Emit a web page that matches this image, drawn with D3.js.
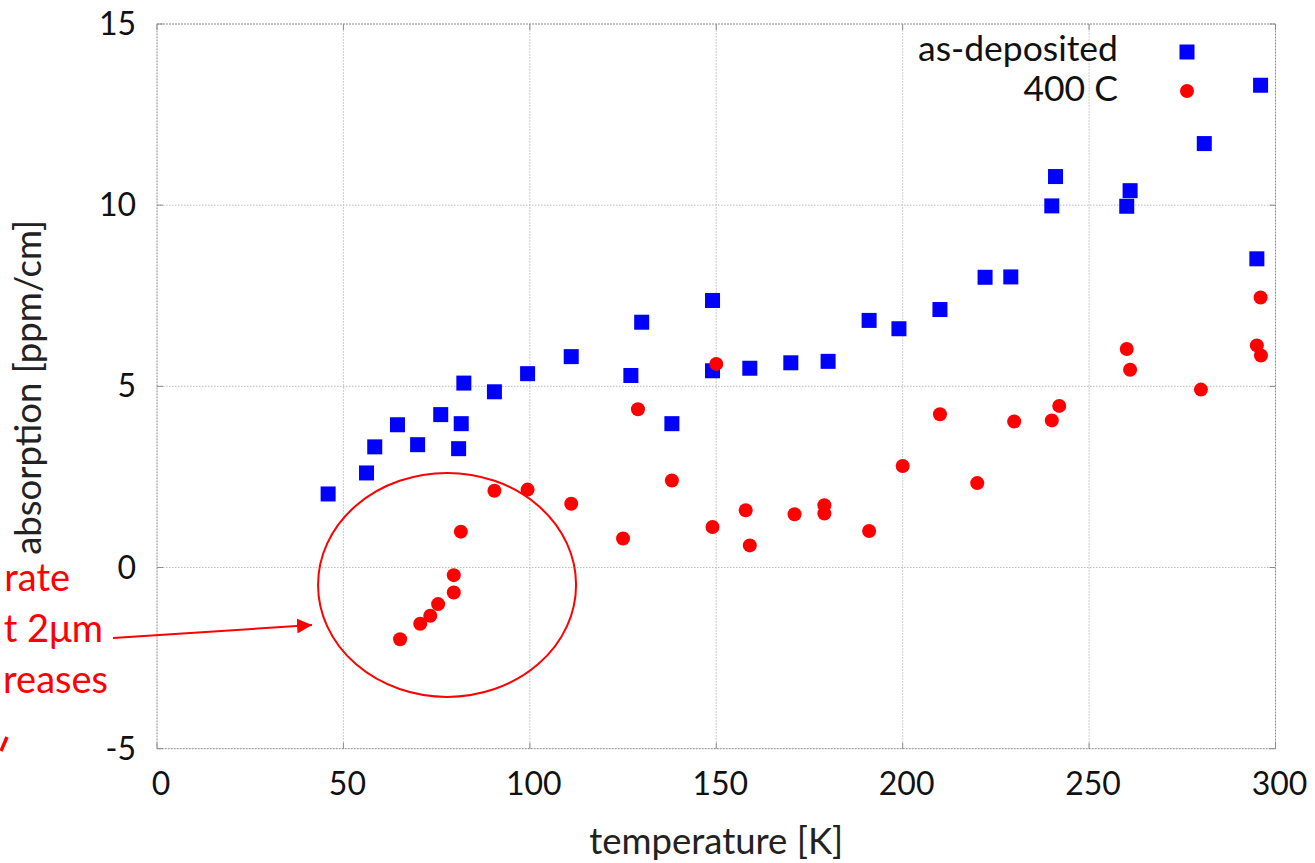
<!DOCTYPE html>
<html>
<head>
<meta charset="utf-8">
<script src="https://cdn.jsdelivr.net/npm/d3@7"></script>
<style>
  body { margin: 0; background: #fff; }
  svg { display: block; font-family: Lato, "Open Sans", sans-serif; }
  .grid line { stroke: #bdbdbd; stroke-width: 1; stroke-dasharray: 1.5,1.5; }
  .frame { fill: none; stroke: #8c8c8c; stroke-width: 1; stroke-dasharray: 2,1; }
  .tick-mark { stroke: #8c8c8c; stroke-width: 1; }
  .ticklabel { font-size: 32px; fill: #111; }
  .title { font-size: 36.5px; fill: #222; }
  .legendtext { font-size: 35.5px; fill: #111; }
  .note { font-size: 38px; fill: #ff0000; }
</style>
</head>
<body>
<div id="chart"></div>
<script>
// tick values
var xTicks = [0, 50, 100, 150, 200, 250, 300];
var yTicks = [-5, 0, 5, 10, 15];

// as-deposited: temperature [K], absorption [ppm/cm]
var depT = [45.9, 56.2, 58.4, 64.5, 69.9, 76.1, 80.9, 81.6, 82.3, 90.5, 99.4, 111.1, 127.1, 130.0, 138.1,
            149.0, 149.0, 159.0, 170.0, 180.0, 191.0, 199.0, 210.0, 222.1, 229.0, 240.0, 241.0, 260.1,
            261.0, 280.9, 295.0, 296.0];
var depA = [2.03, 2.61, 3.33, 3.94, 3.39, 4.22, 3.28, 3.97, 5.09, 4.85, 5.35, 5.82, 5.30, 6.77, 3.97,
            7.37, 5.43, 5.50, 5.65, 5.69, 6.82, 6.59, 7.12, 8.01, 8.02, 9.98, 10.79, 9.97,
            10.40, 11.70, 8.52, 13.31];

// annealed 400 C
var annT = [65.2, 70.6, 73.3, 75.4, 79.6, 79.6, 81.5, 90.5, 99.4, 111.1, 125.0, 129.0, 138.1, 149.0,
            150.0, 157.9, 159.0, 171.0, 179.0, 179.0, 191.0, 200.0, 210.0, 220.0, 229.9, 240.0,
            242.0, 260.1, 261.0, 280.0, 295.0, 296.1, 296.0];
var annA = [-1.98, -1.55, -1.33, -1.01, -0.69, -0.21, 0.99, 2.12, 2.15, 1.76, 0.80, 4.37, 2.40, 1.12,
            5.62, 1.58, 0.61, 1.47, 1.72, 1.49, 1.01, 2.80, 4.23, 2.33, 4.03, 4.06,
            4.46, 6.03, 5.46, 4.91, 6.13, 5.85, 7.45];

var seriesNames = ['as-deposited', '400 C'];

// annotation text, only the part that shows inside the picture
var noteLines = ['rate', 't 2\u03bcm', 'reases'];

var W = 1315, H = 863;
var margin = {left: 157, right: 39.5, top: 24, bottom: 114.3};

var x = d3.scaleLinear().domain([0, 300]).range([margin.left, W - margin.right]);
var y = d3.scaleLinear().domain([-5, 15]).range([H - margin.bottom, margin.top]);

var svg = d3.select('#chart').append('svg')
  .attr('width', W)
  .attr('height', H);

// grid
var grid = svg.append('g').attr('class', 'grid');
grid.selectAll('.gx')
  .data(xTicks.slice(1, -1))
  .enter().append('line')
  .attr('x1', function(d) { return x(d); })
  .attr('x2', function(d) { return x(d); })
  .attr('y1', y(-5))
  .attr('y2', y(15));
grid.selectAll('.gy')
  .data(yTicks.slice(1, -1))
  .enter().append('line')
  .attr('x1', x(0))
  .attr('x2', x(300))
  .attr('y1', function(d) { return y(d); })
  .attr('y2', function(d) { return y(d); });

// frame
svg.append('rect')
  .attr('class', 'frame')
  .attr('x', x(0))
  .attr('y', y(15))
  .attr('width', x(300) - x(0))
  .attr('height', y(-5) - y(15));

// inward tick marks on all sides
var tk = 6;
var ticks = svg.append('g');
xTicks.forEach(function(t) {
  ticks.append('line').attr('class', 'tick-mark')
    .attr('x1', x(t)).attr('x2', x(t)).attr('y1', y(-5)).attr('y2', y(-5) - tk);
  ticks.append('line').attr('class', 'tick-mark')
    .attr('x1', x(t)).attr('x2', x(t)).attr('y1', y(15)).attr('y2', y(15) + tk);
});
yTicks.forEach(function(t) {
  ticks.append('line').attr('class', 'tick-mark')
    .attr('x1', x(0)).attr('x2', x(0) + tk).attr('y1', y(t)).attr('y2', y(t));
  ticks.append('line').attr('class', 'tick-mark')
    .attr('x1', x(300)).attr('x2', x(300) - tk).attr('y1', y(t)).attr('y2', y(t));
});

// tick labels
svg.selectAll('.xl')
  .data(xTicks)
  .enter().append('text')
  .attr('class', 'ticklabel')
  .attr('x', function(d) { return x(d) + 4; })
  .attr('y', y(-5) + 46)
  .attr('text-anchor', 'middle')
  .text(function(d) { return d; });

svg.selectAll('.yl')
  .data(yTicks)
  .enter().append('text')
  .attr('class', 'ticklabel')
  .attr('x', x(0) - 21)
  .attr('y', function(d) { return y(d) + 11; })
  .attr('text-anchor', 'end')
  .text(function(d) { return d; });

// axis titles
svg.append('text')
  .attr('class', 'title')
  .attr('x', (x(0) + x(300)) / 2)
  .attr('y', 854)
  .attr('text-anchor', 'middle')
  .text('temperature [K]');

svg.append('text')
  .attr('class', 'title')
  .attr('transform', 'translate(41,' + (y(5) + 1) + ') rotate(-90)')
  .attr('text-anchor', 'middle')
  .text('absorption [ppm/cm]');

// data
var sq = 15;
svg.append('g').selectAll('rect')
  .data(depT)
  .enter().append('rect')
  .attr('x', function(d) { return x(d) - sq / 2; })
  .attr('y', function(d, i) { return y(depA[i]) - sq / 2; })
  .attr('width', sq)
  .attr('height', sq)
  .style('fill', '#0000ff');

svg.append('g').selectAll('circle')
  .data(annT)
  .enter().append('circle')
  .attr('cx', function(d) { return x(d); })
  .attr('cy', function(d, i) { return y(annA[i]); })
  .attr('r', 7)
  .style('fill', '#ff0000');

// legend
var legend1 = svg.append('g');
legend1.append('text')
  .attr('x', 1118)
  .attr('y', 61)
  .attr('class', 'legendtext')
  .attr('text-anchor', 'end')
  .text(seriesNames[0]);
legend1.append('rect')
  .attr('x', 1187 - sq / 2)
  .attr('y', 52 - sq / 2)
  .attr('width', sq)
  .attr('height', sq)
  .style('fill', '#0000ff');

var legend2 = svg.append('g');
legend2.append('text')
  .attr('x', 1118)
  .attr('y', 101)
  .attr('class', 'legendtext')
  .attr('text-anchor', 'end')
  .text(seriesNames[1]);
legend2.append('circle')
  .attr('cx', 1187)
  .attr('cy', 91)
  .attr('r', 7)
  .style('fill', '#ff0000');

// annotation: ellipse round the low-temperature points, arrow, note
svg.append('ellipse')
  .attr('cx', x(77.8))
  .attr('cy', y(-0.48))
  .attr('rx', x(34.6) - x(0))
  .attr('ry', y(0) - y(3.09))
  .style('fill', 'none')
  .style('stroke', '#ff0000')
  .style('stroke-width', 2);

svg.append('defs').append('marker')
  .attr('id', 'head')
  .attr('viewBox', '0 0 10 10')
  .attr('refX', 10)
  .attr('refY', 5)
  .attr('markerWidth', 15)
  .attr('markerHeight', 15)
  .attr('markerUnits', 'userSpaceOnUse')
  .attr('orient', 'auto')
  .append('path')
  .attr('d', 'M0,0 L10,5 L0,10 z')
  .style('fill', '#ff0000');

svg.append('line')
  .attr('x1', 113)
  .attr('y1', 638)
  .attr('x2', 312)
  .attr('y2', 625)
  .style('stroke', '#ff0000')
  .style('stroke-width', 2)
  .attr('marker-end', 'url(#head)');

var ends = [70, 103, 108];
var bases = [591, 642, 693];
noteLines.forEach(function(s, i) {
  svg.append('text')
    .attr('class', 'note')
    .attr('x', ends[i])
    .attr('y', bases[i])
    .attr('text-anchor', 'end')
    .text(s);
});

// bit of another arrow at the very edge
svg.append('line')
  .attr('x1', 7)
  .attr('y1', 737)
  .attr('x2', 1)
  .attr('y2', 751)
  .style('stroke', '#ff0000')
  .style('stroke-width', 3.5);
</script>
</body>
</html>
